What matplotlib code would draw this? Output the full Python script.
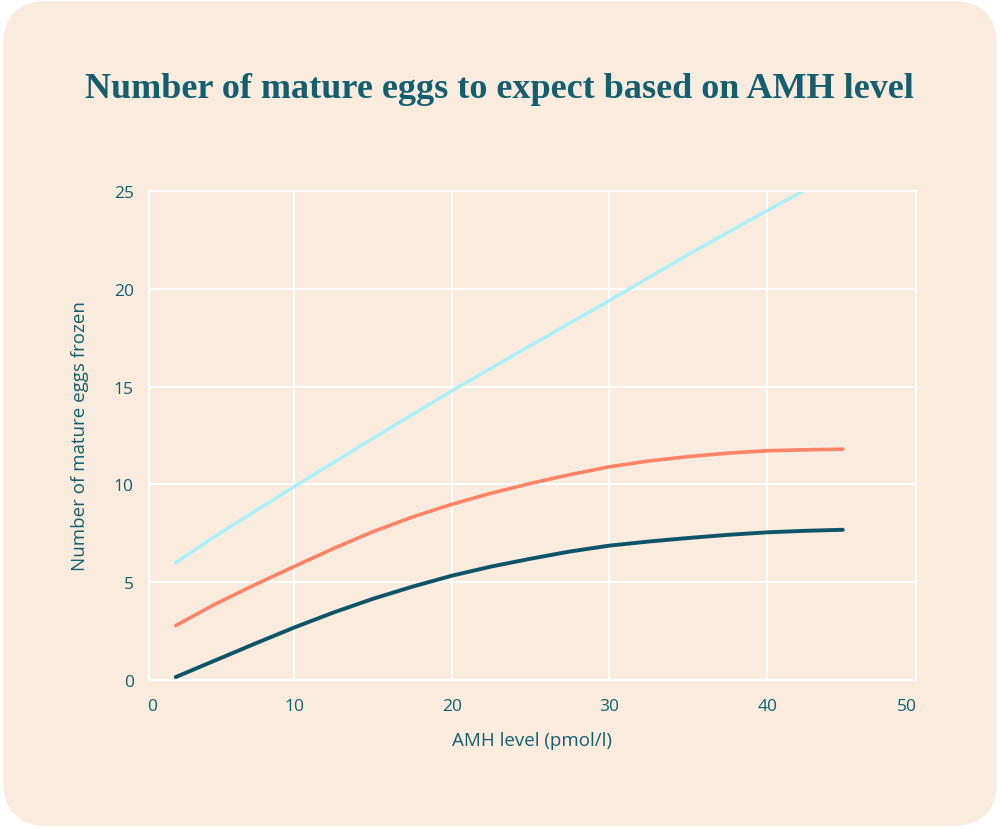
import matplotlib
matplotlib.use("Agg")
import matplotlib.pyplot as plt
from matplotlib.patches import FancyBboxPatch
from matplotlib.transforms import IdentityTransform

# dados
amh = [2.5, 5, 7.5, 10, 12.5, 15, 17.5, 20, 22.5, 25, 27.5, 30, 32.5, 35, 37.5, 40, 42.5, 44.8]
ovos_baixo = [0.15, 1.0, 1.85, 2.68, 3.45, 4.15, 4.77, 5.33, 5.8, 6.2, 6.57, 6.87, 7.08, 7.26, 7.42, 7.55, 7.63, 7.68]
ovos_medio = [2.78, 3.88, 4.86, 5.8, 6.72, 7.58, 8.33, 8.98, 9.55, 10.05, 10.5, 10.9, 11.2, 11.42, 11.6, 11.72, 11.77, 11.8]

amh_alto = [2.5, 5, 10, 15, 20, 25, 30, 35, 40, 42.3]
ovos_alto = [6.0, 7.35, 9.88, 12.35, 14.78, 17.1, 19.4, 21.75, 24.0, 25.0]

x_ticks = [10, 20, 30, 40]
y_ticks = [0, 5, 10, 15, 20, 25]

# cores
fundo = "#FAEBDF"
texto_cor = "#155E6E"
azul_claro = "#A9F0F8"
laranja = "#FF8367"
azul_escuro = "#0D5566"

fig = plt.figure(figsize=(10, 8.29), dpi=100, facecolor="white")

# caixa arredondada do fundo
caixa = FancyBboxPatch((3, 2), 994, 825, boxstyle="round,pad=0,rounding_size=45",
                       transform=IdentityTransform(), facecolor=fundo, edgecolor="none", zorder=-10)
fig.patches.append(caixa)

ax = fig.add_axes([0.149, 1 - 681 / 829, 0.767, (681 - 192) / 829])
ax.set_facecolor(fundo)

ax.plot(amh_alto, ovos_alto, color=azul_claro, lw=2.4, solid_capstyle="round", solid_joinstyle="round")
ax.plot(amh, ovos_medio, color=laranja, lw=2.6, solid_capstyle="round", solid_joinstyle="round")
ax.plot(amh, ovos_baixo, color=azul_escuro, lw=2.8, solid_capstyle="round", solid_joinstyle="round")

ax.set_xlim(0.805, 49.44)
ax.set_ylim(0, 25)
ax.set_xticks(x_ticks, [str(v) for v in x_ticks])
ax.set_xticks([1.0, 48.87], ["0", "50"], minor=True)
ax.set_yticks(y_ticks, [str(v) for v in y_ticks])
ax.grid(True, which="major", color="white", lw=1.5)
ax.set_axisbelow(True)
for s in ax.spines.values():
    s.set_color("white")
    s.set_linewidth(1.5)

fonte = "Open Sans"
ax.tick_params(which="both", length=0, labelsize=12.5, labelcolor=texto_cor)
ax.tick_params(axis="x", which="both", pad=13)
ax.tick_params(axis="y", pad=11)
for lbl in ax.get_xticklabels(which="both") + ax.get_yticklabels():
    lbl.set_family(fonte)

ax.set_xlabel("AMH level (pmol/l)", fontsize=13.5, color=texto_cor, family=fonte, labelpad=12)
ax.set_ylabel("Number of mature eggs frozen", fontsize=13.5, color=texto_cor, family=fonte, labelpad=18)

fig.text(0.499, 1 - 90 / 829, "Number of mature eggs to expect based on AMH level",
         ha="center", va="center", fontsize=26, color=texto_cor,
         family="Liberation Serif", weight="bold")

fig.savefig("out.png", dpi=100, facecolor="white")
